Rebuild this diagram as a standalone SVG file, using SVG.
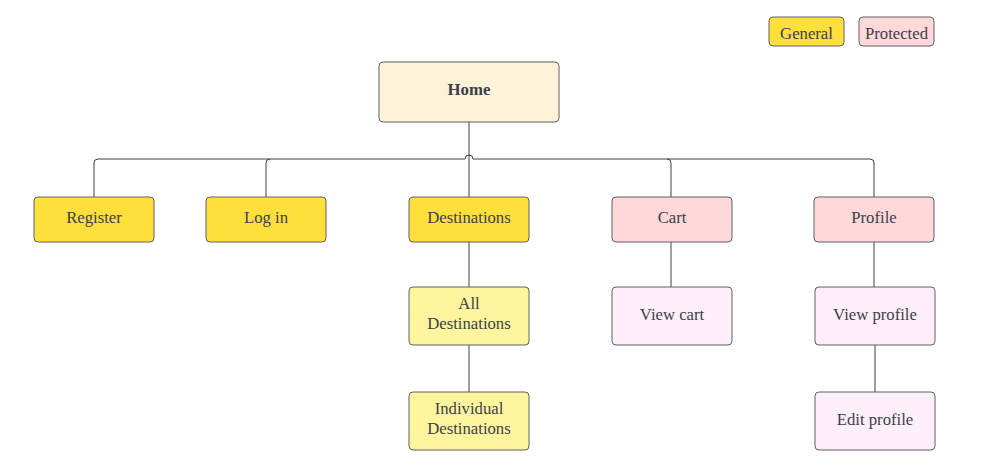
<svg xmlns="http://www.w3.org/2000/svg" width="982" height="470" viewBox="0 0 982 470">
<style>
.n rect{stroke:#5f6066;stroke-width:1}
.g rect{fill:#ffdf3c}
.p rect{fill:#ffd8d9}
.ly rect{fill:#fff59e}
.lp rect{fill:#ffeffa}
text{font-family:"Liberation Serif","DejaVu Serif",serif;font-size:16.7px;fill:#3a414a;text-anchor:middle}
.c path{fill:none;stroke:#3a414a;stroke-width:1}
</style>
<rect width="982" height="470" fill="#ffffff"/>
<g class="c" id="connectors">
<path d="M469 122 V159"/>
<path d="M94 197 V163 Q94 159 98 159 H465 A4 4 0 0 1 473 159 H870 Q874 159 874 163 V197"/>
<path d="M266 197 V163 Q266 159 270 159"/>
<path d="M469 159 V197"/>
<path d="M671 197 V163 Q671 159 667 159"/>
<path d="M469 242 V287"/>
<path d="M469 345 V392"/>
<path d="M671 242 V287"/>
<path d="M874 242 V287"/>
<path d="M875 345 V392"/>
</g>
<g id="legend-general" class="n g"><rect x="769" y="17" width="75" height="29" rx="4"/><text x="806.5" y="38.5">General</text></g>
<g id="legend-protected" class="n p"><rect x="859" y="17" width="75" height="29" rx="4"/><text x="896.5" y="38.5">Protected</text></g>
<g id="home" class="n"><rect x="379" y="62" width="180" height="60" rx="4" fill="#fff2d9"/><text x="469" y="95" font-weight="bold" style="font-size:16.8px">Home</text></g>
<g id="register" class="n g"><rect x="34" y="197" width="120" height="45" rx="4"/><text x="94" y="223">Register</text></g>
<g id="login" class="n g"><rect x="206" y="197" width="120" height="45" rx="4"/><text x="266" y="223">Log in</text></g>
<g id="destinations" class="n g"><rect x="409" y="197" width="120" height="45" rx="4"/><text x="469" y="223">Destinations</text></g>
<g id="cart" class="n p"><rect x="612" y="197" width="120" height="45" rx="4"/><text x="672" y="223">Cart</text></g>
<g id="profile" class="n p"><rect x="814" y="197" width="120" height="45" rx="4"/><text x="874" y="223">Profile</text></g>
<g id="all-destinations" class="n ly"><rect x="409" y="287" width="120" height="58" rx="4"/><text x="469" y="309">All</text><text x="469" y="329">Destinations</text></g>
<g id="individual-destinations" class="n ly"><rect x="409" y="392" width="120" height="58" rx="4"/><text x="469" y="414">Individual</text><text x="469" y="434">Destinations</text></g>
<g id="view-cart" class="n lp"><rect x="612" y="287" width="120" height="58" rx="4"/><text x="672" y="320">View cart</text></g>
<g id="view-profile" class="n lp"><rect x="815" y="287" width="120" height="58" rx="4"/><text x="875" y="320">View profile</text></g>
<g id="edit-profile" class="n lp"><rect x="815" y="392" width="120" height="58" rx="4"/><text x="875" y="425">Edit profile</text></g>
</svg>
